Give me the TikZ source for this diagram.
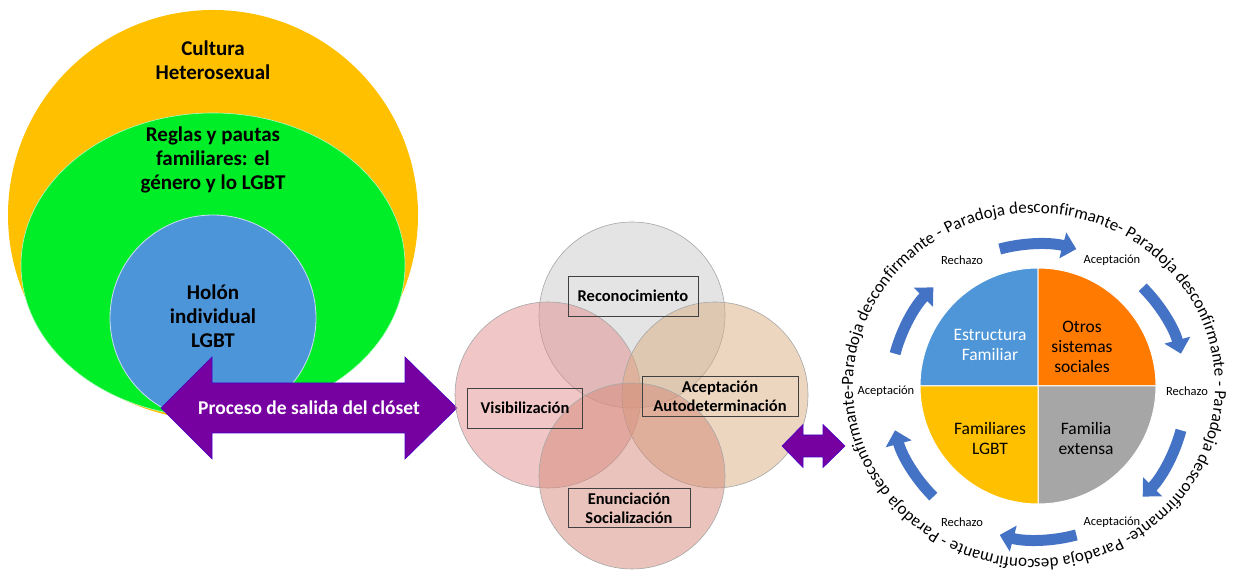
\documentclass[tikz,border=0pt]{standalone}
\usepackage{fontspec}
\setmainfont{Carlito}
\usetikzlibrary{arrows.meta,calc,decorations.text}

\definecolor{culturaorange}{RGB}{255,192,0}
\definecolor{reglasgreen}{RGB}{0,238,40}
\definecolor{holonblue}{RGB}{77,149,217}
\definecolor{salidapurple}{RGB}{118,0,160}
\definecolor{vgray}{RGB}{201,201,201}
\definecolor{vpink}{RGB}{225,141,141}
\definecolor{vtan}{RGB}{217,173,129}
\definecolor{vrose}{RGB}{213,137,121}
\definecolor{pieblue}{RGB}{78,150,216}
\definecolor{pieorange}{RGB}{255,122,0}
\definecolor{piegold}{RGB}{255,192,0}
\definecolor{piegray}{RGB}{166,166,166}
\definecolor{ciclo}{RGB}{68,114,196}

\tikzset{
  capa/.style={font=\fontsize{21}{24}\selectfont\bfseries, align=center},
  etapa/.style={circle, minimum size=186pt, fill opacity=0.5, draw=gray!70, line width=0.6pt},
  etiqueta/.style={draw=black!75, line width=0.7pt, font=\fontsize{16.5}{19}\selectfont\bfseries, align=center, inner sep=1pt},
  sector/.style={font=\fontsize{17.5}{20}\selectfont, align=center},
  respuesta/.style={font=\fontsize{12.5}{14}\selectfont},
  giro/.style={ciclo, line width=11pt, -{Triangle[length=14pt, width=26pt]}},
  flecha/.style={fill=salidapurple, draw=salidapurple!60!blue, line width=0.6pt},
}

\begin{document}
\begin{tikzpicture}[x=1pt, y=1pt]
          \useasboundingbox (0,0) rectangle (1233,580);

          \fill[culturaorange] (213,365) circle[radius=205pt];
          \fill[reglasgreen, draw=white!70!reglasgreen, line width=0.6pt] (213,315) ellipse[x radius=192pt, y radius=152pt];
          \fill[holonblue, draw=white!70!holonblue, line width=0.8pt] (213,262) circle[radius=103pt];

          \node[capa] (cultura) at (213,519.5) {Cultura\\Heterosexual};
          \node[capa] (reglas) at (213,420) {Reglas y pautas\\familiares: el\\género y lo LGBT};
          \node[capa] (holon) at (213,263.5) {Holón\\individual\\LGBT};

          \filldraw[flecha] (161,172) -- (212,223) -- (212,197) -- (405,197) -- (405,223) -- (457,172)
            -- (405,121) -- (405,147) -- (212,147) -- (212,121) -- cycle;
          \node[text=white, font=\fontsize{19.5}{22}\selectfont\bfseries] (salida) at (309,172) {Proceso de salida del clóset};

          \node[etapa, fill=vgray] (reconoc) at (632,265) {};
          \node[etapa, fill=vpink] (visib) at (548,185) {};
          \node[etapa, fill=vtan] (acept) at (715,185) {};
          \node[etapa, fill=vrose] (enunc) at (632,104) {};

          \node[etiqueta, minimum width=130pt, minimum height=40pt] (reconoclbl) at (633,284) {Reconocimiento};
          \node[etiqueta, minimum width=115pt, minimum height=40pt] (visiblbl) at (525,172) {Visibilización};
          \node[etiqueta, minimum width=156pt, minimum height=40pt] (aceptlbl) at (720,184) {Aceptación\\Autodeterminación};
          \node[etiqueta, minimum width=122pt, minimum height=39pt] (enunclbl) at (629,72) {Enunciación\\Socialización};

          \filldraw[flecha] (782,134) -- (803,155.5) -- (803,145) -- (823,145) -- (823,155.5) -- (845,134)
            -- (823,112.5) -- (823,123) -- (803,123) -- (803,112.5) -- cycle;

          \coordinate (pie) at (1038,194);
          \coordinate (anillo) at (1034,194);
          \coordinate (ruedo) at (1038,188);

          \filldraw[fill=pieblue, draw=white, line width=1pt] (pie) -- ++(180:118pt) arc[start angle=180, end angle=90, radius=118pt] -- cycle;
          \filldraw[fill=pieorange, draw=white, line width=1pt] (pie) -- ++(90:118pt) arc[start angle=90, end angle=0, radius=118pt] -- cycle;
          \filldraw[fill=piegray, draw=white, line width=1pt] (pie) -- ++(0:118pt) arc[start angle=0, end angle=-90, radius=118pt] -- cycle;
          \filldraw[fill=piegold, draw=white, line width=1pt] (pie) -- ++(-90:118pt) arc[start angle=-90, end angle=-180, radius=118pt] -- cycle;

          \node[sector, text=white] (estructura) at (990,235) {Estructura\\Familiar};
          \node[sector] (otros) at (1082,233) {Otros\\sistemas\\sociales};
          \node[sector] (familiares) at (990,142) {Familiares\\LGBT};
          \node[sector] (extensa) at (1086,142) {Familia\\extensa};

          \node[respuesta] (rechazoA) at (962,320) {Rechazo};
          \node[respuesta] (aceptA) at (1112,320) {Aceptación};
          \node[respuesta] (rechazoB) at (1187,189) {Rechazo};
          \node[respuesta] (aceptB) at (1112,58) {Aceptación};
          \node[respuesta] (rechazoC) at (962,58) {Rechazo};
          \node[respuesta] (aceptC) at (886,189) {Aceptación};

          \draw[giro] ([shift={(105:148pt)}]ruedo) arc[start angle=105, end angle=75, radius=148pt];
          \draw[giro] ([shift={(45:148pt)}]ruedo) arc[start angle=45, end angle=15, radius=148pt];
          \draw[giro] ([shift={(-15:148pt)}]ruedo) arc[start angle=-15, end angle=-45, radius=148pt];
          \draw[giro] ([shift={(-75:148pt)}]ruedo) arc[start angle=-75, end angle=-105, radius=148pt];
          \draw[giro] ([shift={(225:148pt)}]ruedo) arc[start angle=225, end angle=195, radius=148pt];
          \draw[giro] ([shift={(165:148pt)}]ruedo) arc[start angle=165, end angle=135, radius=148pt];

          \path[decorate, decoration={text along path, text align=fit to path,
            text={|\fontsize{17}{17}\selectfont|Paradoja desconfirmante - Paradoja desconfirmante- Paradoja desconfirmante - Paradoja desconfirmante- Paradoja desconfirmante - Paradoja desconfirmante-}}]
            ([shift={(180:181pt)}]anillo) arc[start angle=180, end angle=-180, x radius=181pt, y radius=173pt];
        \end{tikzpicture}
\end{document}
